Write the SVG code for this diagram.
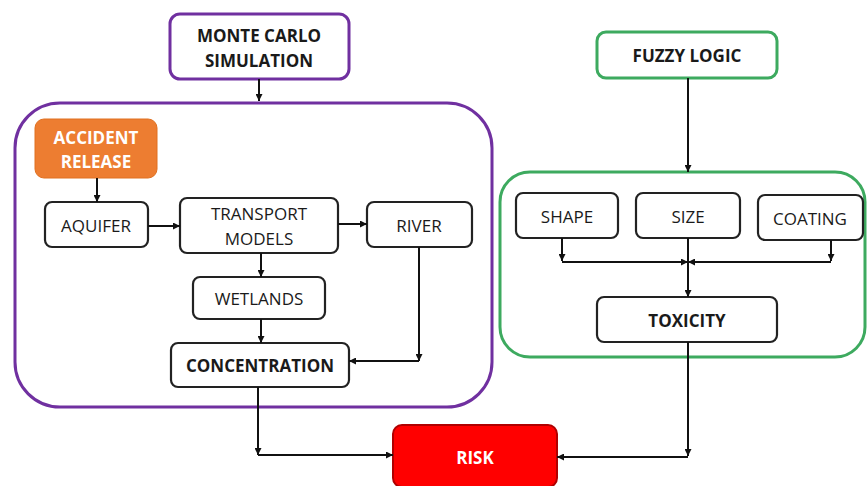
<svg xmlns="http://www.w3.org/2000/svg" width="867" height="486" viewBox="0 0 867 486">
<defs>
<marker id="ah" viewBox="0 0 10 10" refX="10" refY="5" markerWidth="7" markerHeight="7" orient="auto" markerUnits="userSpaceOnUse">
<path d="M0,0 L10,5 L0,10 z" fill="#111"/>
</marker>
<style>
.bg{fill:#fff}
.box{fill:#fff;stroke:#222;stroke-width:2.2}
.pur{fill:#fff;stroke:#7030A0;stroke-width:3}
.grn{fill:#fff;stroke:#3DAA5F;stroke-width:3}
.cont-p{fill:none;stroke:#7030A0;stroke-width:3}
.cont-g{fill:none;stroke:#3DAA5F;stroke-width:3}
.t{font-family:"Open Sans","Liberation Sans",sans-serif;font-size:17px;font-weight:500;fill:#1a1a1a;text-anchor:middle;dominant-baseline:central}
.b{font-weight:bold}
.w{fill:#fff}
.c{fill:none;stroke:#111;stroke-width:2;marker-end:url(#ah)}
</style>
</defs>
<rect class="bg" x="0" y="0" width="867" height="486"/>

<g id="monte-carlo-container"><rect class="cont-p" x="15" y="103" width="477" height="304" rx="45"/></g>
<g id="fuzzy-container"><rect class="cont-g" x="500" y="172" width="365" height="185" rx="30"/></g>

<g id="monte-carlo"><rect class="pur" x="170" y="14" width="179" height="65" rx="10"/>
<text class="t b" x="259" y="35">MONTE CARLO</text><text class="t b" x="259" y="60">SIMULATION</text></g>

<g id="accident-release"><rect x="35" y="119" width="122" height="59" rx="9" fill="#ED7D31" stroke="#E07020" stroke-width="1"/>
<text class="t b w" x="96" y="137">ACCIDENT</text><text class="t b w" x="96" y="161">RELEASE</text></g>

<g id="aquifer"><rect class="box" x="45" y="202" width="103" height="45" rx="7"/><text class="t" x="96" y="225">AQUIFER</text></g>
<g id="transport-models"><rect class="box" x="180" y="198" width="158" height="55" rx="7"/>
<text class="t" x="259" y="213">TRANSPORT</text><text class="t" x="259" y="238">MODELS</text></g>
<g id="river"><rect class="box" x="367" y="202" width="105" height="45" rx="7"/><text class="t" x="419" y="225">RIVER</text></g>
<g id="wetlands"><rect class="box" x="193" y="277" width="132" height="42" rx="7"/><text class="t" x="259" y="298">WETLANDS</text></g>
<g id="concentration"><rect class="box" x="171" y="343" width="178" height="44" rx="7"/><text class="t b" x="260" y="365">CONCENTRATION</text></g>

<g id="fuzzy-logic"><rect class="grn" x="597" y="32" width="180" height="46" rx="9"/><text class="t b" x="687" y="55">FUZZY LOGIC</text></g>
<g id="shape"><rect class="box" x="516" y="193" width="102" height="45" rx="7"/><text class="t" x="567" y="216">SHAPE</text></g>
<g id="size"><rect class="box" x="636" y="193" width="104" height="45" rx="7"/><text class="t" x="688" y="216">SIZE</text></g>
<g id="coating"><rect class="box" x="758" y="195" width="105" height="45" rx="7"/><text class="t" x="810" y="218">COATING</text></g>
<g id="toxicity"><rect class="box" x="597" y="297" width="180" height="45" rx="7"/><text class="t b" x="687" y="320">TOXICITY</text></g>

<g id="risk"><rect x="393" y="425" width="164" height="62" rx="9" fill="#FF0000" stroke="#B00000" stroke-width="2"/><text class="t b w" x="475" y="457">RISK</text></g>

<g id="connectors">
<path class="c" d="M259,79 V101"/>
<path class="c" d="M97,178 V202"/>
<path class="c" d="M148,226 H180"/>
<path class="c" d="M338,224 H367"/>
<path class="c" d="M261,253 V277"/>
<path class="c" d="M261,319 V343"/>
<path class="c" d="M419,247 V361"/>
<path class="c" d="M419,361 H349"/>
<path class="c" d="M258,387 V455"/>
<path class="c" d="M258,455 H393"/>
<path class="c" d="M688,78 V172"/>
<path class="c" d="M562,238 V261"/>
<path class="c" d="M562,262 H688"/>
<path class="c" d="M831,240 V261"/>
<path class="c" d="M831,262 H688"/>
<path class="c" d="M688,238 V297"/>
<path class="c" d="M688,342 V456"/>
<path class="c" d="M688,457 H557"/>
</g>
</svg>
